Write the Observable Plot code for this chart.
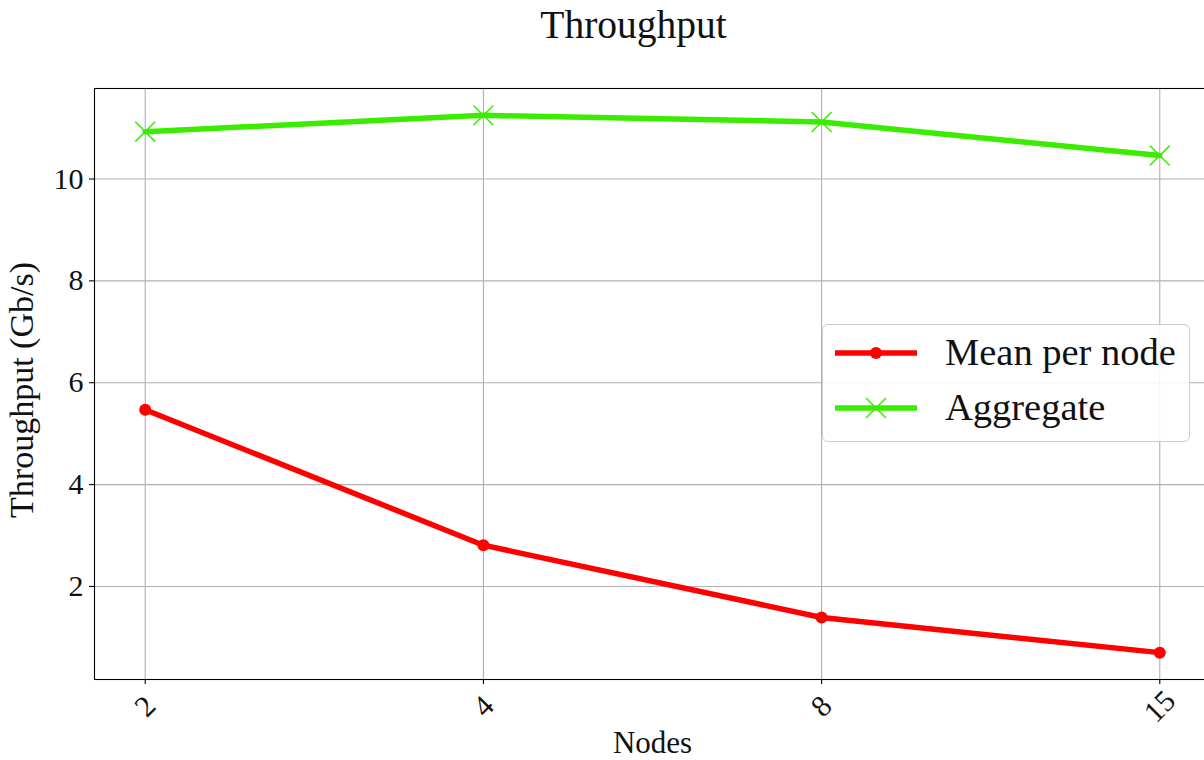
<!DOCTYPE html>
<html>
<head>
<meta charset="utf-8">
<script src="https://cdn.jsdelivr.net/npm/d3@7"></script>
<script src="https://cdn.jsdelivr.net/npm/@observablehq/plot@0.6"></script>
<style>
  html, body { margin: 0; padding: 0; background: #fff; overflow: hidden; width: 1204px; height: 760px; }
  #wrap { position: relative; width: 1204px; height: 760px; overflow: hidden; font-family: "Liberation Serif", "DejaVu Serif", serif; }
  #chart { position: absolute; left: 0; top: 0; width: 1215px; }
  #chart svg { max-width: none !important; }
  #legend { position: absolute; left: 822px; top: 324px; width: 366px; height: 116px; border: 1px solid #cccccc; border-radius: 6px; background: rgba(255,255,255,0.85); }
  #legend .row { position: absolute; left: 0; height: 40px; width: 366px; }
  #legend svg { position: absolute; left: 0; top: 0; }
  #legend span { position: absolute; left: 122px; top: 50%; transform: translateY(-52%); font-size: 38.5px; color: #111; white-space: nowrap; }
</style>
</head>
<body>
<div id="wrap">
  <div id="chart"></div>
  <div id="legend"></div>
</div>
<script>
const nodes = ["2", "4", "8", "15"];
const meanPerNode = [5.47, 2.81, 1.39, 0.70];
const aggregate = [10.93, 11.25, 11.12, 10.46];
const yTicks = [2, 4, 6, 8, 10];
const seriesNames = ["Mean per node", "Aggregate"];
const seriesColors = ["#ff0000", "#3aec00"];

const meanData = nodes.map((n, i) => ({node: n, value: meanPerNode[i]}));
const aggData = nodes.map((n, i) => ({node: n, value: aggregate[i]}));

const allVals = meanPerNode.concat(aggregate);
const lo = d3.min(allVals), hi = d3.max(allVals);
const pad = (hi - lo) * 0.05;

const plot = Plot.plot({
  width: 1215,
  height: 760,
  marginLeft: 94,
  marginRight: 5,
  marginTop: 88,
  marginBottom: 81,
  style: {fontFamily: '"Liberation Serif", "DejaVu Serif", serif', background: "transparent", color: "#111", maxWidth: "none"},
  x: {type: "point", domain: nodes, padding: 0.15, round: false},
  y: {domain: [lo - pad, hi + pad]},
  marks: [
    Plot.gridX({stroke: "#b0b0b0", strokeOpacity: 1, strokeWidth: 1.1}),
    Plot.gridY({ticks: yTicks, stroke: "#b0b0b0", strokeOpacity: 1, strokeWidth: 1.1}),
    Plot.axisY({ticks: yTicks, tickSize: 5, tickPadding: 6, fontSize: 30, label: null, strokeWidth: 1.1, stroke: "#000"}),
    Plot.axisX({tickSize: 5, tickFormat: () => "", label: null, strokeWidth: 1.1, stroke: "#000"}),
    Plot.text(nodes, {x: d => d, frameAnchor: "bottom", lineAnchor: "middle", textAnchor: "middle", dy: 27, rotate: -45, fontSize: 30, fill: "#111"}),
    Plot.line(meanData, {x: "node", y: "value", stroke: seriesColors[0], strokeWidth: 5.5}),
    Plot.dot(meanData, {x: "node", y: "value", fill: seriesColors[0], r: 6, stroke: "none"}),
    Plot.line(aggData, {x: "node", y: "value", stroke: seriesColors[1], strokeWidth: 5.5}),
    Plot.dot(aggData, {x: "node", y: "value", symbol: "times", r: 9.1, stroke: seriesColors[1], strokeWidth: 1.5}),
    Plot.frame({stroke: "#000", strokeWidth: 1.1}),
    Plot.text(["Throughput"], {frameAnchor: "top", lineAnchor: "middle", textAnchor: "middle", dy: -63, dx: -19, fontSize: 39.5, fill: "#111"}),
    Plot.text(["Nodes"], {frameAnchor: "bottom", lineAnchor: "middle", textAnchor: "middle", dy: 64, fontSize: 31, fill: "#111"}),
    Plot.text(["Throughput (Gb/s)"], {frameAnchor: "left", lineAnchor: "middle", textAnchor: "middle", dx: -72, dy: 6, rotate: -90, fontSize: 34, fill: "#111"})
  ]
});
plot.style.maxWidth = "none";
document.getElementById("chart").appendChild(plot);

// Legend
const legend = document.getElementById("legend");
const rowCenters = [28, 83];
seriesNames.forEach((name, i) => {
  const row = document.createElement("div");
  row.className = "row";
  row.style.top = (rowCenters[i] - 20) + "px";
  let marker;
  if (i === 0) {
    marker = `<circle cx="53" cy="20" r="6" fill="${seriesColors[i]}"/>`;
  } else {
    marker = `<path d="M43,10 L63,30 M43,30 L63,10" stroke="${seriesColors[i]}" stroke-width="1.5" fill="none"/>`;
  }
  row.innerHTML = `<svg width="110" height="40"><line x1="12" x2="94" y1="20" y2="20" stroke="${seriesColors[i]}" stroke-width="5.5"/>${marker}</svg><span>${name}</span>`;
  legend.appendChild(row);
});
</script>
</body>
</html>
